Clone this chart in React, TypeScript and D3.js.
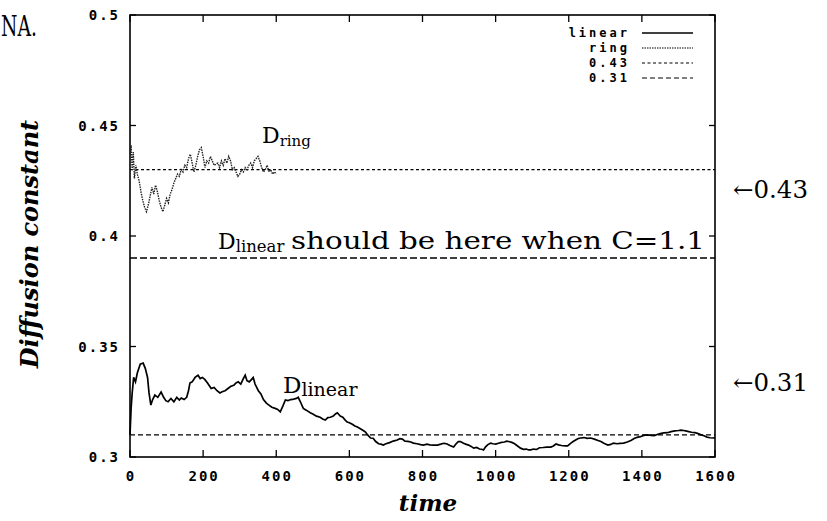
import { useEffect, useRef } from "react";
import * as d3 from "d3";

// data
const xTicks = [0, 200, 400, 600, 800, 1000, 1200, 1400, 1600];
const yTicks = [0.3, 0.35, 0.4, 0.45, 0.5];
const yTickLabels = ["0.3", "0.35", "0.4", "0.45", "0.5"];

const linearTime = [
  0, 3, 6, 10, 15, 20, 28, 36, 42, 48, 52, 57, 62, 68, 76, 85, 92, 98, 104, 112, 120, 128, 135, 140, 148, 155, 160, 164,
  170, 178, 186, 192, 198, 205, 212, 222, 230, 238, 246, 252, 260, 268, 276, 284, 290, 296, 303, 310, 315, 320, 326, 332,
  337, 342, 351, 358, 365, 373, 380, 388, 397, 404, 411, 418, 425, 432, 440, 448, 455, 460, 466, 474, 482, 493, 500, 510,
  520, 527, 534, 541, 548, 556, 562, 567, 575, 582, 588, 594, 600, 608, 615, 622, 630, 638, 644, 650, 658, 665, 672, 680,
  686, 693, 700, 710, 720, 731, 738, 745, 752, 760, 768, 775, 785, 795, 803, 812, 820, 830, 841, 850, 858, 866, 875, 885,
  892, 898, 904, 912, 920, 926, 933, 940, 948, 956, 962, 967, 972, 978, 986, 993, 1000, 1008, 1016, 1024, 1030, 1036, 1044,
  1052, 1060, 1068, 1076, 1084, 1090, 1096, 1104, 1112, 1120, 1130, 1140, 1151, 1158, 1165, 1172, 1180, 1190, 1197, 1205,
  1212, 1220, 1226, 1233, 1242, 1250, 1260, 1270, 1280, 1288, 1296, 1307, 1315, 1322, 1332, 1340, 1350, 1360, 1370, 1380,
  1389, 1396, 1405, 1416, 1425, 1434, 1442, 1450, 1460, 1470, 1480, 1490, 1500, 1507, 1514, 1520, 1528, 1536, 1545, 1552,
  1562, 1570, 1578, 1586, 1595, 1600,
];
const linearValue = [
  0.31, 0.322, 0.329, 0.336, 0.334, 0.338, 0.342, 0.3425, 0.34, 0.336, 0.329, 0.3235, 0.326, 0.328, 0.327, 0.3294, 0.327,
  0.3255, 0.325, 0.3265, 0.325, 0.327, 0.3258, 0.3267, 0.326, 0.327, 0.33, 0.3335, 0.334, 0.336, 0.337, 0.3355, 0.336,
  0.335, 0.3335, 0.331, 0.3315, 0.33, 0.329, 0.3295, 0.33, 0.331, 0.332, 0.3325, 0.3335, 0.334, 0.333, 0.3355, 0.337,
  0.3345, 0.334, 0.335, 0.336, 0.333, 0.33, 0.3285, 0.326, 0.3244, 0.3235, 0.3225, 0.322, 0.3215, 0.3204, 0.323, 0.3258,
  0.3255, 0.326, 0.3262, 0.3265, 0.327, 0.325, 0.322, 0.3212, 0.32, 0.3195, 0.3185, 0.318, 0.3172, 0.3167, 0.3178, 0.318,
  0.3185, 0.3195, 0.32, 0.3185, 0.318, 0.3168, 0.3158, 0.3155, 0.3148, 0.314, 0.3136, 0.3128, 0.312, 0.3113, 0.31, 0.3086,
  0.3085, 0.307, 0.306, 0.3058, 0.3054, 0.306, 0.3065, 0.3072, 0.3077, 0.3083, 0.3081, 0.3072, 0.3071, 0.3068, 0.3063,
  0.306, 0.3056, 0.3054, 0.3058, 0.3055, 0.3054, 0.3054, 0.3058, 0.3062, 0.306, 0.3052, 0.3045, 0.306, 0.307, 0.307,
  0.3062, 0.3057, 0.3054, 0.3048, 0.304, 0.3043, 0.3036, 0.3035, 0.3032, 0.3045, 0.3055, 0.3063, 0.306, 0.3058, 0.3062,
  0.3066, 0.3068, 0.3072, 0.307, 0.3066, 0.306, 0.305, 0.304, 0.3035, 0.3036, 0.3032, 0.3032, 0.3036, 0.3034, 0.3042,
  0.3043, 0.3045, 0.3045, 0.305, 0.3059, 0.3055, 0.3052, 0.305, 0.305, 0.3062, 0.307, 0.3078, 0.3084, 0.3086, 0.3088,
  0.3084, 0.3086, 0.3081, 0.3075, 0.307, 0.3062, 0.3054, 0.3057, 0.3063, 0.306, 0.3062, 0.3063, 0.3068, 0.3075, 0.3085,
  0.309, 0.3092, 0.3098, 0.31, 0.3098, 0.3097, 0.3102, 0.3106, 0.3109, 0.311, 0.3115, 0.3118, 0.312, 0.3122, 0.312, 0.3118,
  0.3115, 0.3112, 0.311, 0.3107, 0.31, 0.3096, 0.309, 0.3087, 0.3086, 0.3088,
];

const ringTime = [
  0, 3, 6, 9, 12, 16, 20, 25, 30, 35, 40, 45, 50, 55, 60, 65, 70, 75, 80, 85, 90, 95, 100, 105, 110, 115, 120, 125, 130, 135,
  140, 145, 150, 155, 160, 165, 170, 175, 180, 185, 190, 195, 200, 205, 210, 215, 220, 225, 230, 240, 245, 250, 255, 260,
  265, 270, 275, 280, 285, 290, 295, 300, 305, 310, 315, 320, 325, 330, 335, 340, 345, 350, 355, 360, 365, 370, 375, 380,
  385, 390, 395, 400,
];
const ringValue = [
  0.437, 0.441, 0.43, 0.438, 0.426, 0.432, 0.428, 0.425, 0.42, 0.416, 0.413, 0.411, 0.414, 0.418, 0.422, 0.419, 0.423, 0.42,
  0.416, 0.413, 0.411, 0.414, 0.417, 0.415, 0.419, 0.421, 0.424, 0.426, 0.428, 0.427, 0.43, 0.429, 0.432, 0.431, 0.435,
  0.437, 0.433, 0.429, 0.432, 0.436, 0.439, 0.44, 0.436, 0.431, 0.434, 0.433, 0.436, 0.434, 0.432, 0.433, 0.431, 0.434,
  0.432, 0.435, 0.433, 0.436, 0.434, 0.43, 0.431, 0.429, 0.427, 0.428, 0.43, 0.429, 0.431, 0.43, 0.432, 0.433, 0.431, 0.434,
  0.435, 0.436, 0.434, 0.431, 0.429, 0.43, 0.432, 0.429, 0.43, 0.428, 0.429, 0.428,
];

const refLevels = [0.43, 0.39, 0.31];
const legendNames = ["linear", "ring", "0.43", "0.31"];

export default function App() {
  const ref = useRef<SVGSVGElement>(null);

  useEffect(() => {
    const svg = d3.select(ref.current);
    svg.selectAll("*").remove();

    const left = 130, right = 715, top = 15, bottom = 457;
    const x = d3.scaleLinear().domain([0, 1600]).range([left, right]);
    const y = d3.scaleLinear().domain([0.3, 0.5]).range([bottom, top]);
    const mono = "'DejaVu Sans Mono', monospace";
    const serif = "'DejaVu Serif', serif";
    const fs = 14, ls = 2;

    svg.append("rect").attr("width", 827).attr("height", 521).attr("fill", "#fff");

    // frame
    svg.append("rect")
      .attr("x", left).attr("y", top)
      .attr("width", right - left).attr("height", bottom - top)
      .attr("fill", "none").attr("stroke", "#000").attr("stroke-width", 1.6);

    // ticks on all four sides, pointing in
    const tk = svg.append("g").attr("stroke", "#000").attr("stroke-width", 1.3);
    xTicks.forEach((t) => {
      tk.append("line").attr("x1", x(t)).attr("x2", x(t)).attr("y1", bottom).attr("y2", bottom - 7);
      tk.append("line").attr("x1", x(t)).attr("x2", x(t)).attr("y1", top).attr("y2", top + 7);
    });
    yTicks.forEach((v) => {
      tk.append("line").attr("x1", left).attr("x2", left + 6).attr("y1", y(v)).attr("y2", y(v));
      tk.append("line").attr("x1", right).attr("x2", right - 6).attr("y1", y(v)).attr("y2", y(v));
    });

    svg.append("g").selectAll("text").data(xTicks).join("text")
      .attr("x", (d) => x(d) + ls / 2).attr("y", 481)
      .attr("text-anchor", "middle")
      .attr("font-family", mono).attr("font-size", fs).attr("font-weight", 600)
      .attr("letter-spacing", ls)
      .text((d) => String(d));

    svg.append("g").selectAll("text").data(yTicks).join("text")
      .attr("x", 118 + ls).attr("y", (d) => y(d) + 5)
      .attr("text-anchor", "end")
      .attr("font-family", mono).attr("font-size", fs).attr("font-weight", 600)
      .attr("letter-spacing", ls)
      .text((d, i) => yTickLabels[i]);

    // horizontal reference lines
    const refStyle = [
      { dash: "3,2.5", w: 1.2 },
      { dash: "7,3", w: 1.5 },
      { dash: "5,3", w: 1.2 },
    ];
    refLevels.forEach((v, i) => {
      svg.append("line")
        .attr("x1", left).attr("x2", right).attr("y1", y(v)).attr("y2", y(v))
        .attr("stroke", "#000").attr("stroke-width", refStyle[i].w)
        .attr("stroke-dasharray", refStyle[i].dash);
    });

    const mk = (ts: number[], vs: number[]) =>
      d3.line<number>().x((d) => x(d)).y((d, i) => y(vs[i]))(ts);

    svg.append("path").attr("d", mk(ringTime, ringValue))
      .attr("fill", "none").attr("stroke", "#222").attr("stroke-width", 1.4)
      .attr("stroke-dasharray", "1.5,1");
    svg.append("path").attr("d", mk(linearTime, linearValue))
      .attr("fill", "none").attr("stroke", "#000").attr("stroke-width", 1.7);

    // legend
    const legStyle = [
      { dash: null, w: 1.7 },
      { dash: "1.5,1", w: 1.2 },
      { dash: "3,2.5", w: 1.2 },
      { dash: "5,3", w: 1.2 },
    ];
    const lfs = 12, lls = 3;
    legendNames.forEach((n, i) => {
      const ly = 33 + i * 15;
      svg.append("text")
        .attr("x", 627 + lls).attr("y", ly + 4)
        .attr("text-anchor", "end")
        .attr("font-family", mono).attr("font-size", lfs).attr("font-weight", 600)
        .attr("letter-spacing", lls)
        .text(n);
      const l = svg.append("line")
        .attr("x1", 642).attr("x2", 693).attr("y1", ly).attr("y2", ly)
        .attr("stroke", "#000").attr("stroke-width", legStyle[i].w);
      if (legStyle[i].dash) l.attr("stroke-dasharray", legStyle[i].dash);
    });

    // annotations
    const sub = (gx: number, gy: number, size: number, subSize: number, main: string, s: string) => {
      const t = svg.append("text").attr("x", gx).attr("y", gy)
        .attr("font-family", serif).attr("font-size", size).attr("fill", "#000");
      t.append("tspan").text(main);
      t.append("tspan").attr("font-size", subSize).attr("dy", 3).text(s);
    };
    sub(262, 143, 22, 15, "D", "ring");
    sub(218, 249, 22, 16.5, "D", "linear");
    svg.append("text").attr("x", 291).attr("y", 249)
      .attr("font-family", serif).attr("font-size", 25)
      .attr("textLength", 414).attr("lengthAdjust", "spacingAndGlyphs")
      .text("should be here when C=1.1");
    sub(283, 393, 23, 19, "D", "linear");

    svg.append("text").attr("x", 733).attr("y", 198)
      .attr("font-family", serif).attr("font-size", 24)
      .attr("textLength", 75).attr("lengthAdjust", "spacingAndGlyphs").text("\u21900.43");
    svg.append("text").attr("x", 733).attr("y", 391)
      .attr("font-family", serif).attr("font-size", 24)
      .attr("textLength", 75).attr("lengthAdjust", "spacingAndGlyphs").text("\u21900.31");

    svg.append("text").attr("x", 1).attr("y", 36)
      .attr("font-family", serif).attr("font-size", 28)
      .attr("textLength", 36).attr("lengthAdjust", "spacingAndGlyphs").text("NA.");

    svg.append("text").attr("x", 428).attr("y", 511).attr("text-anchor", "middle")
      .attr("font-family", serif).attr("font-size", 23).attr("font-weight", "bold").attr("font-style", "italic")
      .text("time");

    svg.append("text")
      .attr("transform", "translate(38,244) rotate(-90)")
      .attr("text-anchor", "middle")
      .attr("font-family", serif).attr("font-size", 24).attr("font-weight", "bold").attr("font-style", "italic")
      .text("Diffusion constant");
  }, []);

  return (
    <svg
      ref={ref}
      width={827}
      height={521}
      style={{ position: "absolute", left: 0, top: 0, display: "block" }}
    />
  );
}
